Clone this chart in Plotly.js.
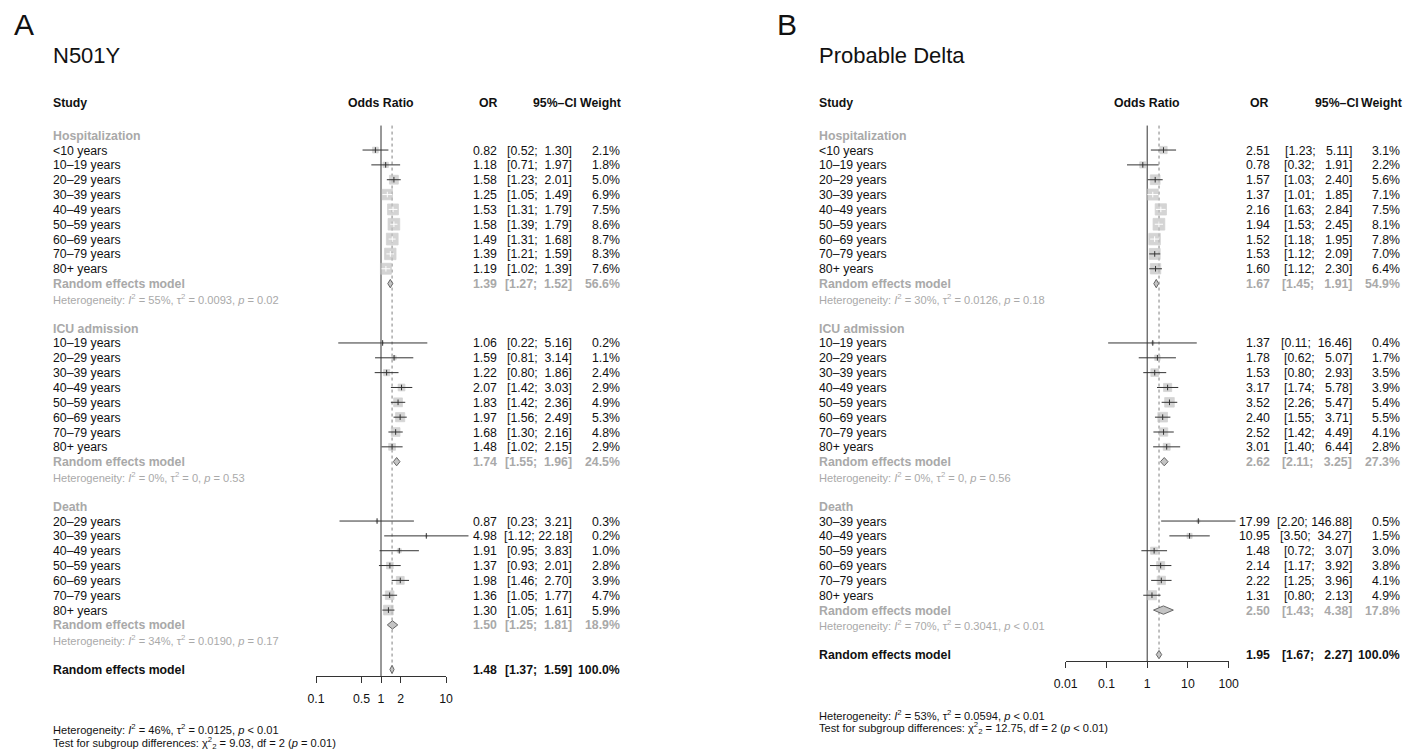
<!DOCTYPE html>
<html><head><meta charset="utf-8">
<script src="https://cdn.plot.ly/plotly-3.0.1.min.js"></script>
<style>html,body{margin:0;padding:0;background:#fff}#chart{width:1406px;height:752px}</style>
</head><body><div id="chart"></div>
<script>
// ================= DATA =================
// Panel A: N501Y
const A_hosp_labels = ['&lt;10 years','10–19 years','20–29 years','30–39 years','40–49 years','50–59 years','60–69 years','70–79 years','80+ years'];
const A_hosp_or = [0.82,1.18,1.58,1.25,1.53,1.58,1.49,1.39,1.19];
const A_hosp_lo = [0.52,0.71,1.23,1.05,1.31,1.39,1.31,1.21,1.02];
const A_hosp_hi = [1.30,1.97,2.01,1.49,1.79,1.79,1.68,1.59,1.39];
const A_hosp_w  = [2.1,1.8,5.0,6.9,7.5,8.6,8.7,8.3,7.6];
const A_hosp_sum = [1.39,1.27,1.52,56.6];
const A_hosp_het = ['55%','0.0093','= 0.02'];

const A_icu_labels = ['10–19 years','20–29 years','30–39 years','40–49 years','50–59 years','60–69 years','70–79 years','80+ years'];
const A_icu_or = [1.06,1.59,1.22,2.07,1.83,1.97,1.68,1.48];
const A_icu_lo = [0.22,0.81,0.80,1.42,1.42,1.56,1.30,1.02];
const A_icu_hi = [5.16,3.14,1.86,3.03,2.36,2.49,2.16,2.15];
const A_icu_w  = [0.2,1.1,2.4,2.9,4.9,5.3,4.8,2.9];
const A_icu_sum = [1.74,1.55,1.96,24.5];
const A_icu_het = ['0%','0','= 0.53'];

const A_death_labels = ['20–29 years','30–39 years','40–49 years','50–59 years','60–69 years','70–79 years','80+ years'];
const A_death_or = [0.87,4.98,1.91,1.37,1.98,1.36,1.30];
const A_death_lo = [0.23,1.12,0.95,0.93,1.46,1.05,1.05];
const A_death_hi = [3.21,22.18,3.83,2.01,2.70,1.77,1.61];
const A_death_w  = [0.3,0.2,1.0,2.8,3.9,4.7,5.9];
const A_death_sum = [1.50,1.25,1.81,18.9];
const A_death_het = ['34%','0.0190','= 0.17'];

const A_overall = [1.48,1.37,1.59,100.0];
const A_overall_het = ['46%','0.0125','&lt; 0.01'];
const A_test = ['9.03','2','= 0.01'];
const A_ticks = [0.1,0.5,1,2,10];
const A_tick_labels = ['0.1','0.5','1','2','10'];

// Panel B: Probable Delta
const B_hosp_labels = ['&lt;10 years','10–19 years','20–29 years','30–39 years','40–49 years','50–59 years','60–69 years','70–79 years','80+ years'];
const B_hosp_or = [2.51,0.78,1.57,1.37,2.16,1.94,1.52,1.53,1.60];
const B_hosp_lo = [1.23,0.32,1.03,1.01,1.63,1.53,1.18,1.12,1.12];
const B_hosp_hi = [5.11,1.91,2.40,1.85,2.84,2.45,1.95,2.09,2.30];
const B_hosp_w  = [3.1,2.2,5.6,7.1,7.5,8.1,7.8,7.0,6.4];
const B_hosp_sum = [1.67,1.45,1.91,54.9];
const B_hosp_het = ['30%','0.0126','= 0.18'];

const B_icu_labels = ['10–19 years','20–29 years','30–39 years','40–49 years','50–59 years','60–69 years','70–79 years','80+ years'];
const B_icu_or = [1.37,1.78,1.53,3.17,3.52,2.40,2.52,3.01];
const B_icu_lo = [0.11,0.62,0.80,1.74,2.26,1.55,1.42,1.40];
const B_icu_hi = [16.46,5.07,2.93,5.78,5.47,3.71,4.49,6.44];
const B_icu_w  = [0.4,1.7,3.5,3.9,5.4,5.5,4.1,2.8];
const B_icu_sum = [2.62,2.11,3.25,27.3];
const B_icu_het = ['0%','0','= 0.56'];

const B_death_labels = ['30–39 years','40–49 years','50–59 years','60–69 years','70–79 years','80+ years'];
const B_death_or = [17.99,10.95,1.48,2.14,2.22,1.31];
const B_death_lo = [2.20,3.50,0.72,1.17,1.25,0.80];
const B_death_hi = [146.88,34.27,3.07,3.92,3.96,2.13];
const B_death_w  = [0.5,1.5,3.0,3.8,4.1,4.9];
const B_death_sum = [2.50,1.43,4.38,17.8];
const B_death_het = ['70%','0.3041','&lt; 0.01'];

const B_overall = [1.95,1.67,2.27,100.0];
const B_overall_het = ['53%','0.0594','&lt; 0.01'];
const B_test = ['12.75','2','&lt; 0.01'];
const B_ticks = [0.01,0.1,1,10,100];
const B_tick_labels = ['0.01','0.1','1','10','100'];

const GROUP_NAMES = ['Hospitalization','ICU admission','Death'];
const NULL_OR = 1;

// ================= STYLE / LAYOUT =================
const W = 1406, H = 752;
const FONT = 'Liberation Sans, Arial, Helvetica, sans-serif';
const BLACK = '#111111', GRAY = '#a9a9a9', LINE = '#333333', SQCOL = '#c2c2c2';
const Y0 = 135.2, DY = 14.84;           // pixel of row 0 and row spacing
const TEXT_DY = 0.5;                    // px offset of text
const ROWF = 12.3, HETF = 11.1;
const SQ = 11.7;                        // square size of largest weight
const DIA_H = 0.28;                     // diamond half height in rows
const rowPx = r => Y0 + DY * r;
const topRow = -Y0 / DY, botRow = (H - Y0) / DY;

const LAYOUT_A = {letter:'A', letterX:12.5, title:'N501Y', xText:52, xOR:498, xCI:573, xW:621,
  hOdds:380.7, hOR:499, hCI:578, hW:622, axisL:316, axisR:446, dataL:300, dataR:480, dataAx:'x', visAx:'x2'};
const LAYOUT_B = {letter:'B', letterX:776, title:'Probable Delta', xText:818, xOR:1271, xCI:1353, xW:1401,
  hOdds:1147, hOR:1270, hCI:1360, hW:1403, axisL:1065.7, axisR:1228.7, dataL:1050, dataR:1245, dataAx:'x3', visAx:'x4'};

function T(xpx, ypx, text, xanchor, size, color) {
  return {xref:'paper', yref:'paper', x:xpx / W, y:1 - ypx / H, text:text, showarrow:false,
    xanchor:xanchor, yanchor:'middle', borderpad:0, font:{family:FONT, size:size, color:color}};
}
function hetText(h) {
  return 'Heterogeneity: <i>I</i><sup>2</sup> = ' + h[0] + ', τ<sup>2</sup> = ' + h[1] + ', <i>p</i> ' + h[2];
}
function testText(t) {
  return 'Test for subgroup differences: χ<sup>2</sup><sub>2</sub> = ' + t[0] + ', df = ' + t[1] + ' (<i>p</i> ' + t[2] + ')';
}

const allTraces = [], allAnn = [], axes = {};

function buildPanel(groups, overall, overallHet, test, ticks, tickLabels, L) {
  const lg0 = Math.log10(ticks[0]), lg1 = Math.log10(ticks[ticks.length - 1]);
  const ppd = (L.axisR - L.axisL) / (lg1 - lg0);
  const NB = '\u00A0';
  const allLo = [], allHi = [];
  groups.forEach(g => { allLo.push(...g.lo, g.sum[1]); allHi.push(...g.hi, g.sum[2]); });
  allLo.push(overall[1]); allHi.push(overall[2]);
  const loLen = Math.max(...allLo.map(v => v.toFixed(2).length));
  const hiLen = Math.max(...allHi.map(v => v.toFixed(2).length));
  const fmtCI = (lo, hi) => '[' + lo.toFixed(2).padStart(loLen, NB) + '; ' + hi.toFixed(2).padStart(hiLen, NB) + ']';
  const wmax = Math.max(...groups.flatMap(g => g.w));
  const ya = 'y';

  // titles and headers
  allAnn.push(T(L.letterX, 24.5, L.letter, 'left', 30, BLACK));
  allAnn.push(T(L.xText, 55.5, L.title, 'left', 22, BLACK));
  const hy = 103;
  allAnn.push(T(L.xText, hy, '<b>Study</b>', 'left', ROWF, BLACK));
  allAnn.push(T(L.hOdds, hy, '<b>Odds Ratio</b>', 'center', ROWF, BLACK));
  allAnn.push(T(L.hOR, hy, '<b>OR</b>', 'right', ROWF, BLACK));
  allAnn.push(T(L.hCI, hy, '<b>95%–CI</b>', 'right', ROWF, BLACK));
  allAnn.push(T(L.hW, hy, '<b>Weight</b>', 'right', ROWF, BLACK));

  const sq = {x:[], y:[], s:[]};
  const dark = {x:[], y:[]}, white = {x:[], y:[]};
  const darkPt = {x:[], y:[]}, whitePt = {x:[], y:[]};
  const rowText = (row, label, or, lo, hi, w, color, bold) => {
    const b = s => bold ? '<b>' + s + '</b>' : s;
    const yp = rowPx(row) + TEXT_DY;
    allAnn.push(T(L.xText, yp, b(label), 'left', ROWF, color));
    allAnn.push(T(L.xOR, yp, b(or.toFixed(2)), 'right', ROWF, color));
    allAnn.push(T(L.xCI, yp, b(fmtCI(lo, hi)), 'right', ROWF, color));
    allAnn.push(T(L.xW, yp, b(w.toFixed(1) + '%'), 'right', ROWF, color));
  };
  const diamond = (row, or, lo, hi) => {
    allTraces.push({type:'scatter', mode:'lines', xaxis:L.dataAx, yaxis:ya, hoverinfo:'skip',
      x:[lo, or, hi, or, lo], y:[row, row - DIA_H, row, row + DIA_H, row], fill:'toself',
      fillcolor:'#c4c4c4', line:{color:'#666666', width:1}});
  };

  let r = 0;
  const diamonds = [];
  groups.forEach(g => {
    allAnn.push(T(L.xText, rowPx(r) + TEXT_DY, '<b>' + g.name + '</b>', 'left', ROWF, GRAY));
    g.labels.forEach((lab, i) => {
      const row = r + 1 + i;
      rowText(row, lab, g.or[i], g.lo[i], g.hi[i], g.w[i], BLACK, false);
      const size = SQ * Math.sqrt(g.w[i] / wmax);
      sq.x.push(g.or[i]); sq.y.push(row); sq.s.push(size);
      const e = ppd * Math.log10(g.or[i]), l = ppd * Math.log10(g.lo[i]), h = ppd * Math.log10(g.hi[i]);
      const inside = (e - l) <= size / 2 && (h - e) <= size / 2;
      const tgt = inside ? white : dark, tp = inside ? whitePt : darkPt;
      tgt.x.push(g.lo[i], g.hi[i], null); tgt.y.push(row, row, null);
      tp.x.push(g.or[i]); tp.y.push(row);
    });
    const sr = r + g.labels.length + 1;
    rowText(sr, 'Random effects model', g.sum[0], g.sum[1], g.sum[2], g.sum[3], GRAY, true);
    diamonds.push([sr, g.sum[0], g.sum[1], g.sum[2]]);
    allAnn.push(T(L.xText, rowPx(sr + 1) + TEXT_DY, hetText(g.het), 'left', HETF, GRAY));
    r = sr + 3;
  });
  const ovRow = r;
  rowText(ovRow, 'Random effects model', overall[0], overall[1], overall[2], overall[3], BLACK, true);
  diamonds.push([ovRow, overall[0], overall[1], overall[2]]);
  allAnn.push(T(L.xText, rowPx(ovRow + 4.04), hetText(overallHet), 'left', HETF, BLACK));
  allAnn.push(T(L.xText, rowPx(ovRow + 4.96), testText(test), 'left', HETF, BLACK));

  const axisRow = ovRow + 0.45;
  const lineTop = -0.65;
  // reference lines
  allTraces.push({type:'scatter', mode:'lines', xaxis:L.dataAx, yaxis:ya, hoverinfo:'skip',
    x:[NULL_OR, NULL_OR], y:[lineTop, axisRow], line:{color:LINE, width:1}});
  allTraces.push({type:'scatter', mode:'lines', xaxis:L.dataAx, yaxis:ya, hoverinfo:'skip',
    x:[overall[0], overall[0]], y:[lineTop, ovRow - 0.35], line:{color:'#808080', width:1, dash:'dot'}});
  // squares
  allTraces.push({type:'scatter', mode:'markers', xaxis:L.dataAx, yaxis:ya, hoverinfo:'skip',
    x:sq.x, y:sq.y, marker:{symbol:'square', size:sq.s, color:SQCOL, line:{color:SQCOL, width:0.8}}});
  // CI lines
  allTraces.push({type:'scatter', mode:'lines', xaxis:L.dataAx, yaxis:ya, hoverinfo:'skip',
    x:dark.x, y:dark.y, line:{color:LINE, width:1}, connectgaps:false});
  allTraces.push({type:'scatter', mode:'lines', xaxis:L.dataAx, yaxis:ya, hoverinfo:'skip',
    x:white.x, y:white.y, line:{color:'#ffffff', width:1}, connectgaps:false});
  allTraces.push({type:'scatter', mode:'markers', xaxis:L.dataAx, yaxis:ya, hoverinfo:'skip',
    x:darkPt.x, y:darkPt.y, marker:{symbol:'line-ns', size:4, color:LINE, line:{color:LINE, width:1}}});
  allTraces.push({type:'scatter', mode:'markers', xaxis:L.dataAx, yaxis:ya, hoverinfo:'skip',
    x:whitePt.x, y:whitePt.y, marker:{symbol:'line-ns', size:4, color:'#ffffff', line:{color:'#ffffff', width:1}}});
  diamonds.forEach(d => diamond(d[0], d[1], d[2], d[3]));
  // empty trace to host the visible axis
  allTraces.push({type:'scatter', mode:'markers', xaxis:L.visAx, yaxis:ya, x:[], y:[], hoverinfo:'skip'});

  const dataKey = 'xaxis' + L.dataAx.slice(1), visKey = 'xaxis' + L.visAx.slice(1);
  axes[dataKey] = {domain:[L.dataL / W, L.dataR / W], type:'log', anchor:'y', visible:false, fixedrange:true,
    range:[lg0 - (L.axisL - L.dataL) / ppd, lg1 + (L.dataR - L.axisR) / ppd]};
  axes[visKey] = {domain:[L.axisL / W, L.axisR / W], type:'log', anchor:'free', position:1 - rowPx(axisRow) / H,
    range:[lg0, lg1], tickvals:ticks, ticktext:tickLabels, ticks:'outside', ticklen:6, tickwidth:1,
    tickcolor:LINE, showline:true, linecolor:LINE, linewidth:1, showgrid:false, zeroline:false,
    ticklabelstandoff:5, tickfont:{family:FONT, size:ROWF, color:BLACK}, fixedrange:true};
}

const mk = (name, labels, or, lo, hi, w, sum, het) => ({name, labels, or, lo, hi, w, sum, het});
buildPanel([
  mk(GROUP_NAMES[0], A_hosp_labels, A_hosp_or, A_hosp_lo, A_hosp_hi, A_hosp_w, A_hosp_sum, A_hosp_het),
  mk(GROUP_NAMES[1], A_icu_labels, A_icu_or, A_icu_lo, A_icu_hi, A_icu_w, A_icu_sum, A_icu_het),
  mk(GROUP_NAMES[2], A_death_labels, A_death_or, A_death_lo, A_death_hi, A_death_w, A_death_sum, A_death_het)
], A_overall, A_overall_het, A_test, A_ticks, A_tick_labels, LAYOUT_A);
buildPanel([
  mk(GROUP_NAMES[0], B_hosp_labels, B_hosp_or, B_hosp_lo, B_hosp_hi, B_hosp_w, B_hosp_sum, B_hosp_het),
  mk(GROUP_NAMES[1], B_icu_labels, B_icu_or, B_icu_lo, B_icu_hi, B_icu_w, B_icu_sum, B_icu_het),
  mk(GROUP_NAMES[2], B_death_labels, B_death_or, B_death_lo, B_death_hi, B_death_w, B_death_sum, B_death_het)
], B_overall, B_overall_het, B_test, B_ticks, B_tick_labels, LAYOUT_B);

const layout = Object.assign({
  width:W, height:H, margin:{l:0, r:0, t:0, b:0, pad:0},
  paper_bgcolor:'#ffffff', plot_bgcolor:'rgba(0,0,0,0)', showlegend:false,
  yaxis:{domain:[0, 1], range:[botRow, topRow], visible:false, fixedrange:true},
  annotations:allAnn
}, axes);

Plotly.newPlot('chart', allTraces, layout, {staticPlot:true, displayModeBar:false});
</script>
</body></html>
